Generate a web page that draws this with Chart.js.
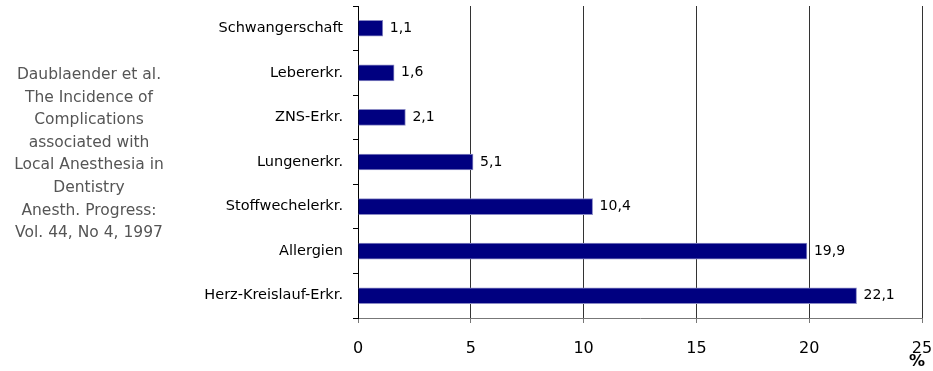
<!DOCTYPE html>
<html>
<head>
<meta charset="utf-8">
<script src="https://cdn.jsdelivr.net/npm/chart.js@4/dist/chart.umd.min.js"></script>
<style>
  html, body { margin: 0; padding: 0; background: #fff; }
  #wrap { width: 933px; height: 371px; }
</style>
</head>
<body>
<div id="wrap"><canvas id="chart"></canvas></div>
<script>
var categories = ['Schwangerschaft', 'Lebererkr.', 'ZNS-Erkr.', 'Lungenerkr.', 'Stoffwechelerkr.', 'Allergien', 'Herz-Kreislauf-Erkr.']
var values = [1.1, 1.6, 2.1, 5.1, 10.4, 19.9, 22.1]
var xTicks = [0, 5, 10, 15, 20, 25]
var sourceLines = [
    'Daublaender et al.',
    'The Incidence of',
    'Complications',
    'associated with',
    'Local Anesthesia in',
    'Dentistry',
    'Anesth. Progress:',
    'Vol. 44, No 4, 1997'
]
var unitLabel = '%'

var fontFamily = '"DejaVu Sans", Verdana, sans-serif'

// value labels next to each bar, source note on the left, unit under the axis
var extrasPlugin = {
    id: 'extras',
    afterDatasetsDraw: function (chart) {
        var ctx = chart.ctx
        var meta = chart.getDatasetMeta(0)
        ctx.save()
        ctx.font = '14px ' + fontFamily
        ctx.fillStyle = '#000'
        ctx.textAlign = 'left'
        ctx.textBaseline = 'middle'
        meta.data.forEach(function (bar, i) {
            ctx.fillText(String(values[i]).replace('.', ','), bar.x + 7, bar.y)
        })

        ctx.font = '15.5px ' + fontFamily
        ctx.fillStyle = '#555'
        ctx.textAlign = 'center'
        sourceLines.forEach(function (line, i) {
            ctx.fillText(line, 89, 75 + i * 22.6)
        })

        ctx.font = 'bold 16px ' + fontFamily
        ctx.fillStyle = '#000'
        ctx.fillText(unitLabel, 917, 362)
        ctx.restore()
    }
}

var barChartCanvas = document.getElementById('chart').getContext('2d')

var barChart = new Chart(barChartCanvas, {
    type: 'bar',
    data: {
        labels: categories,
        datasets: [
            {
                data: values,
                backgroundColor: '#000080',
                borderColor: '#8a8ac4',
                borderWidth: 1,
                barThickness: 16
            }
        ]
    },
    options: {
        indexAxis: 'y',
        responsive: true,
        maintainAspectRatio: false,
        animation: false,
        layout: { padding: { top: 6, right: 11, left: 0, bottom: 0 } },
        plugins: {
            legend: { display: false },
            tooltip: { enabled: false }
        },
        scales: {
            x: {
                min: 0,
                max: 25,
                afterFit: function (scale) {
                    scale.height = 53
                    scale.paddingLeft = 0
                    scale.paddingRight = 0
                },
                afterBuildTicks: function (scale) {
                    scale.ticks = xTicks.map(function (v) { return { value: v } })
                },
                grid: { color: '#333', lineWidth: 1, tickLength: 5, tickColor: '#777' },
                border: { color: '#777', width: 1 },
                ticks: {
                    color: '#000',
                    padding: 16,
                    maxRotation: 0,
                    font: { family: fontFamily, size: 16 }
                }
            },
            y: {
                offset: true,
                afterFit: function (scale) {
                    scale.width = 358
                    scale.paddingTop = 0
                    scale.paddingBottom = 0
                },
                grid: { offset: true, drawOnChartArea: false, tickLength: 5, color: '#000' },
                border: { color: '#000', width: 1 },
                ticks: {
                    color: '#000',
                    padding: 10,
                    font: { family: fontFamily, size: 14.5 }
                }
            }
        }
    },
    plugins: [extrasPlugin]
})
</script>
</body>
</html>
